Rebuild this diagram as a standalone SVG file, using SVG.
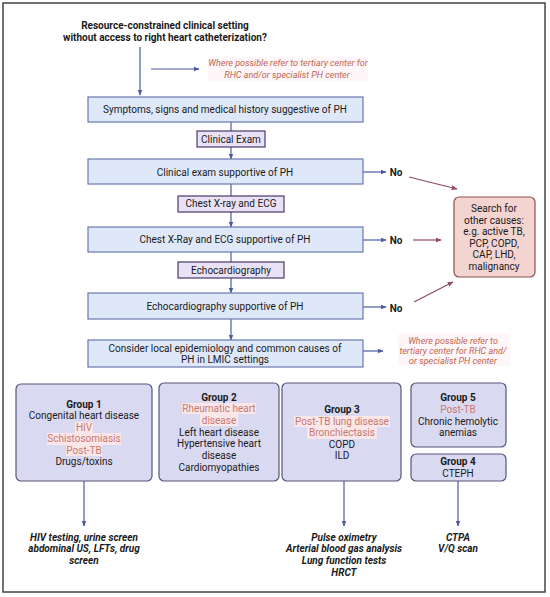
<svg xmlns="http://www.w3.org/2000/svg" width="550" height="597" viewBox="0 0 550 597">
<defs>
<marker id="ab" viewBox="0 0 10 10" refX="9" refY="5" markerWidth="5" markerHeight="5" orient="auto"><path d="M0,1 L10,5 L0,9 z" fill="#4d5aa3"/></marker>
<marker id="ar" viewBox="0 0 10 10" refX="9" refY="5" markerWidth="5" markerHeight="5" orient="auto"><path d="M0,1 L10,5 L0,9 z" fill="#8e4a5e"/></marker>
<style>
text{font-family:Roboto,"Liberation Sans",sans-serif;font-size:10px;fill:#1a1a1a;text-anchor:middle}
.b{font-weight:bold}
.bi{font-weight:bold;font-style:italic}
.ref{font-style:italic;fill:#c2654f;font-size:9px}
.red{fill:#c77a6e}
.main{fill:#dfe8f8;stroke:#6a78b0;stroke-width:1.2}
.test{fill:#e9e2f6;stroke:#4a3a6a;stroke-width:1.2}
.grp{fill:#dad9f2;stroke:#55557a;stroke-width:1.2}
.srch{fill:#f4d4d1;stroke:#8a5050;stroke-width:1.2}
.hl{fill:#fbe6ea}
.cb{stroke:#4d5aa3;stroke-width:1.2;fill:none}
.cr{stroke:#8e4a5e;stroke-width:1.2;fill:none}
</style>
</defs>
<rect x="3" y="3" width="542" height="589" fill="#fff" stroke="#444" stroke-width="1.5"/>

<g id="title">
<text class="b" x="165" y="29">Resource-constrained clinical setting</text>
<text class="b" x="165" y="41">without access to right heart catheterization?</text>
</g>
<g id="refer1">
<rect class="hl" x="208" y="57" width="160" height="24" opacity="0.35"/>
<text class="ref" x="288" y="66">Where possible refer to tertiary center for</text>
<text class="ref" x="287" y="78">RHC and/or specialist PH center</text>
</g>

<g id="connectors">
<line class="cb" x1="140" y1="47" x2="140" y2="95" marker-end="url(#ab)"/>
<line class="cb" x1="151" y1="69" x2="199" y2="69" marker-end="url(#ab)"/>
<line class="cb" x1="231" y1="122" x2="231" y2="131"/>
<line class="cb" x1="231" y1="147" x2="231" y2="159" marker-end="url(#ab)"/>
<line class="cb" x1="231" y1="184" x2="231" y2="196"/>
<line class="cb" x1="231" y1="212" x2="231" y2="227" marker-end="url(#ab)"/>
<line class="cb" x1="231" y1="252" x2="231" y2="262"/>
<line class="cb" x1="231" y1="278" x2="231" y2="293" marker-end="url(#ab)"/>
<line class="cb" x1="231" y1="319" x2="231" y2="340" marker-end="url(#ab)"/>
<line class="cb" x1="363" y1="172" x2="386" y2="172" marker-end="url(#ab)"/>
<line class="cb" x1="363" y1="240" x2="386" y2="240" marker-end="url(#ab)"/>
<line class="cb" x1="363" y1="307" x2="386" y2="307" marker-end="url(#ab)"/>
<line class="cb" x1="363" y1="351" x2="383" y2="351" marker-end="url(#ab)"/>
<line class="cr" x1="409" y1="177" x2="457" y2="189" marker-end="url(#ar)"/>
<line class="cr" x1="413" y1="240" x2="441" y2="240" marker-end="url(#ar)"/>
<line class="cr" x1="414" y1="302" x2="453" y2="282" marker-end="url(#ar)"/>
<line class="cb" x1="84" y1="481" x2="84" y2="526" marker-end="url(#ab)"/>
<line class="cb" x1="344" y1="481" x2="344" y2="526" marker-end="url(#ab)"/>
<line class="cb" x1="458" y1="481" x2="458" y2="526" marker-end="url(#ab)"/>
</g>

<g id="box1"><rect class="main" x="88" y="97" width="275" height="25"/><text x="225" y="113">Symptoms, signs and medical history suggestive of PH</text></g>
<g id="clinexam"><rect class="test" x="197" y="131" width="68" height="16"/><text x="231" y="143">Clinical Exam</text></g>
<g id="box2"><rect class="main" x="88" y="159" width="275" height="25"/><text x="225" y="176">Clinical exam supportive of PH</text></g>
<g id="no1"><text class="b" x="396" y="176">No</text></g>
<g id="cxr"><rect class="test" x="178" y="196" width="106" height="16"/><text x="231" y="207">Chest X-ray and ECG</text></g>
<g id="box3"><rect class="main" x="88" y="227" width="275" height="25"/><text x="225" y="243">Chest X-Ray and ECG supportive of PH</text></g>
<g id="no2"><text class="b" x="396" y="244">No</text></g>
<g id="echo"><rect class="test" x="178" y="262" width="106" height="16"/><text x="231" y="274">Echocardiography</text></g>
<g id="box4"><rect class="main" x="88" y="293" width="275" height="26"/><text x="225" y="310">Echocardiography supportive of PH</text></g>
<g id="no3"><text class="b" x="396" y="312">No</text></g>
<g id="box5"><rect class="main" x="88" y="340" width="275" height="27"/><text x="225" y="352">Consider local epidemiology and common causes of</text><text x="225" y="363">PH in LMIC settings</text></g>
<g id="refer2">
<rect class="hl" x="398" y="334" width="112" height="32" opacity="0.35"/>
<text class="ref" x="453" y="344">Where possible refer to</text>
<text class="ref" x="453" y="354">tertiary center for RHC and/</text>
<text class="ref" x="453" y="364">or specialist PH center</text>
</g>
<g id="search"><rect class="srch" x="454" y="197" width="81" height="80" rx="5"/>
<text x="494" y="212">Search for</text><text x="494" y="224">other causes:</text><text x="494" y="235">e.g. active TB,</text><text x="494" y="247">PCP, COPD,</text><text x="494" y="258">CAP, LHD,</text><text x="494" y="270">malignancy</text></g>

<g id="group1"><rect class="grp" x="16" y="384" width="136" height="97" rx="5"/>
<rect class="hl" x="75" y="422" width="18" height="11"/><rect class="hl" x="47" y="433" width="74" height="12"/><rect class="hl" x="66" y="445" width="36" height="11"/>
<text class="b" x="84" y="408">Group 1</text><text x="84" y="419">Congenital heart disease</text><text class="red" x="84" y="431">HIV</text><text class="red" x="84" y="442">Schistosomiasis</text><text class="red" x="84" y="454">Post-TB</text><text x="84" y="465">Drugs/toxins</text></g>
<g id="group2"><rect class="grp" x="159" y="383" width="120" height="98" rx="5"/>
<rect class="hl" x="182" y="403" width="74" height="11"/><rect class="hl" x="200" y="414" width="38" height="12"/>
<text class="b" x="219" y="401">Group 2</text><text class="red" x="219" y="412">Rheumatic heart</text><text class="red" x="219" y="424">disease</text><text x="219" y="436">Left heart disease</text><text x="219" y="447">Hypertensive heart</text><text x="219" y="459">disease</text><text x="219" y="471">Cardiomyopathies</text></g>
<g id="group3"><rect class="grp" x="282" y="383" width="119" height="98" rx="5"/>
<rect class="hl" x="294" y="416" width="96" height="11"/><rect class="hl" x="307" y="427" width="70" height="12"/>
<text class="b" x="342" y="413">Group 3</text><text class="red" x="342" y="425">Post-TB lung disease</text><text class="red" x="342" y="436">Bronchiectasis</text><text x="342" y="448">COPD</text><text x="342" y="459">ILD</text></g>
<g id="group5"><rect class="grp" x="411" y="383" width="95" height="64" rx="5"/>
<text class="b" x="458" y="401">Group 5</text><text class="red" x="458" y="413">Post-TB</text><text x="458" y="425">Chronic hemolytic</text><text x="458" y="436">anemias</text></g>
<g id="group4"><rect class="grp" x="411" y="454" width="95" height="27" rx="5"/>
<text class="b" x="458" y="465">Group 4</text><text x="458" y="477">CTEPH</text></g>

<g id="tests1"><text class="bi" x="84" y="541">HIV testing, urine screen</text><text class="bi" x="84" y="552">abdominal US, LFTs, drug</text><text class="bi" x="84" y="564">screen</text></g>
<g id="tests3"><text class="bi" x="344" y="541">Pulse oximetry</text><text class="bi" x="344" y="552">Arterial blood gas analysis</text><text class="bi" x="344" y="564">Lung function tests</text><text class="bi" x="344" y="576">HRCT</text></g>
<g id="tests4"><text class="bi" x="458" y="541">CTPA</text><text class="bi" x="458" y="552">V/Q scan</text></g>
</svg>
